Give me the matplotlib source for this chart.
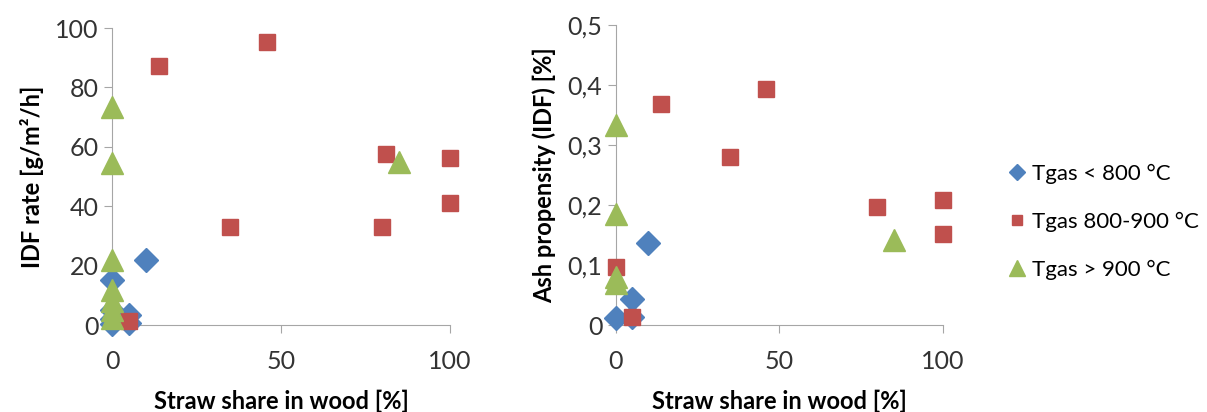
import numpy as np
import matplotlib.pyplot as plt
from matplotlib.ticker import FuncFormatter

plt.rcParams['font.family'] = ['Lato', 'DejaVu Sans']

# IDF rate [g/m2/h]
blue_x1 = [0, 10, 0, 0, 0, 5, 5]
blue_y1 = [15.2, 22, 5, 2, 0.5, 3.4, 0.8]
red_x1 = [5, 14, 35, 46, 80, 81, 100, 100]
red_y1 = [1.5, 87.2, 33.1, 95.4, 33.1, 57.6, 56.2, 41.1]
green_x1 = [0, 0, 0, 0, 0, 0, 0, 85]
green_y1 = [73.4, 54.5, 21.9, 11.8, 8, 5, 2.5, 55]

# ash propensity [%]
blue_x2 = [0, 5, 5, 10]
blue_y2 = [0.011, 0.043, 0.014, 0.136]
red_x2 = [0, 5, 14, 35, 46, 80, 100, 100]
red_y2 = [0.097, 0.014, 0.368, 0.281, 0.393, 0.196, 0.208, 0.151]
green_x2 = [0, 0, 0, 0, 85]
green_y2 = [0.333, 0.185, 0.08, 0.07, 0.142]

labels = ['Tgas < 800 °C', 'Tgas 800-900 °C', 'Tgas > 900 °C']
colors = ['#4F81BD', '#C0504D', '#9BBB59']

fig = plt.figure(figsize=(12.07, 4.12), dpi=100)
ax1 = fig.add_axes([0.0928, 0.211, 0.280, 0.721])
ax2 = fig.add_axes([0.510, 0.211, 0.271, 0.728])

def draw(ax, bx, by, rx, ry, gx, gy):
    h1, = ax.plot(bx, by, 'D', color=colors[0], ms=12, ls='none', clip_on=False, zorder=3)
    h2, = ax.plot(rx, ry, 's', color=colors[1], ms=11, ls='none', clip_on=False, zorder=4)
    h3, = ax.plot(gx, gy, '^', color=colors[2], ms=16, ls='none', clip_on=False, zorder=5)
    for s in ['top', 'right']:
        ax.spines[s].set_visible(False)
    for s in ['left', 'bottom']:
        ax.spines[s].set_color('#a6a6a6')
    ax.tick_params(colors='#a6a6a6', labelcolor='#333333', labelsize=18, length=6)
    ax.tick_params(axis='x', pad=12)
    ax.set_xlim(0, 100)
    ax.set_xticks([0, 50, 100])
    ax.set_xlabel('Straw share in wood [%]', fontsize=17, fontweight='bold', labelpad=12)
    return h1, h2, h3

draw(ax1, blue_x1, blue_y1, red_x1, red_y1, green_x1, green_y1)
ax1.set_ylim(0, 100)
ax1.set_yticks(np.arange(0, 101, 20))
ax1.set_ylabel('IDF rate [g/m²/h]', fontsize=17, fontweight='bold', labelpad=8)

hs = draw(ax2, blue_x2, blue_y2, red_x2, red_y2, green_x2, green_y2)
ax2.set_ylim(0, 0.5)
ax2.set_yticks(np.arange(0, 0.51, 0.1))
ax2.yaxis.set_major_formatter(FuncFormatter(lambda v, p: '0' if v == 0 else f'{v:.1f}'.replace('.', ',')))
ax2.set_ylabel('Ash propensity (IDF) [%]', fontsize=17, fontweight='bold', labelpad=8)

fig.legend(hs, labels, loc='center left', bbox_to_anchor=(0.822, 0.461), frameon=False,
           fontsize=16, labelspacing=1.25, handletextpad=0.3, handlelength=0.8,
           markerscale=0.7, borderpad=0.2)

fig.savefig('out.png', dpi=100)
